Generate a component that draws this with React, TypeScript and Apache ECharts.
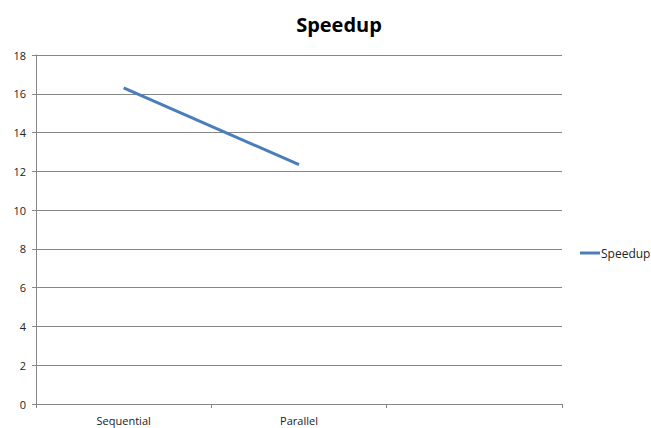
import React, { useEffect, useRef } from "react";
import * as echarts from "echarts";

const categories = ["Sequential", "Parallel", ""];
const speedupValues = [16.3, 12.35];
const seriesName = "Speedup";
const titleText = "Speedup";

export default function App() {
  const ref = useRef<HTMLDivElement>(null);
  useEffect(() => {
    if (!ref.current) return;
    const chart = echarts.init(ref.current, null, { renderer: "svg" });
    chart.setOption({
      animation: false,
      backgroundColor: "#ffffff",
      title: {
        text: titleText,
        left: 334,
        textAlign: "center",
        top: 9,
        textStyle: {
          fontFamily: "Open Sans",
          fontWeight: "bold",
          fontSize: 20,
          color: "#000000",
        },
      },
      legend: {
        orient: "vertical",
        left: 575,
        top: 242,
        itemWidth: 20,
        itemHeight: 3,
        itemGap: 4,
        icon: "rect",
        textStyle: { fontFamily: "Open Sans", fontSize: 12, color: "#222", padding: [0, 0, 0, -4] },
        data: [seriesName],
      },
      grid: { left: 36, top: 55, width: 526, height: 349 },
      xAxis: {
        type: "category",
        data: categories,
        boundaryGap: true,
        axisLine: { lineStyle: { color: "#868686", width: 1 } },
        axisTick: { show: true, alignWithLabel: false, length: 4, lineStyle: { color: "#868686" } },
        axisLabel: { fontFamily: "Open Sans", fontSize: 11, color: "#222", margin: 11 },
        splitLine: { show: false },
      },
      yAxis: {
        type: "value",
        min: 0,
        max: 18,
        interval: 2,
        axisLine: { show: true, lineStyle: { color: "#868686", width: 1 } },
        axisTick: { show: true, length: 4, lineStyle: { color: "#868686" } },
        axisLabel: { fontFamily: "Open Sans", fontSize: 11, color: "#222", margin: 10 },
        splitLine: { show: true, lineStyle: { color: "#868686", width: 1 } },
      },
      series: [
        {
          name: seriesName,
          type: "line",
          data: speedupValues,
          showSymbol: false,
          symbol: "none",
          itemStyle: { color: "#4A7EBB" },
          lineStyle: { color: "#4A7EBB", width: 3 },
        },
      ],
    });
    return () => chart.dispose();
  }, []);
  return (
    <div
      ref={ref}
      style={{ position: "fixed", left: 0, top: 0, width: 651, height: 428 }}
    />
  );
}
